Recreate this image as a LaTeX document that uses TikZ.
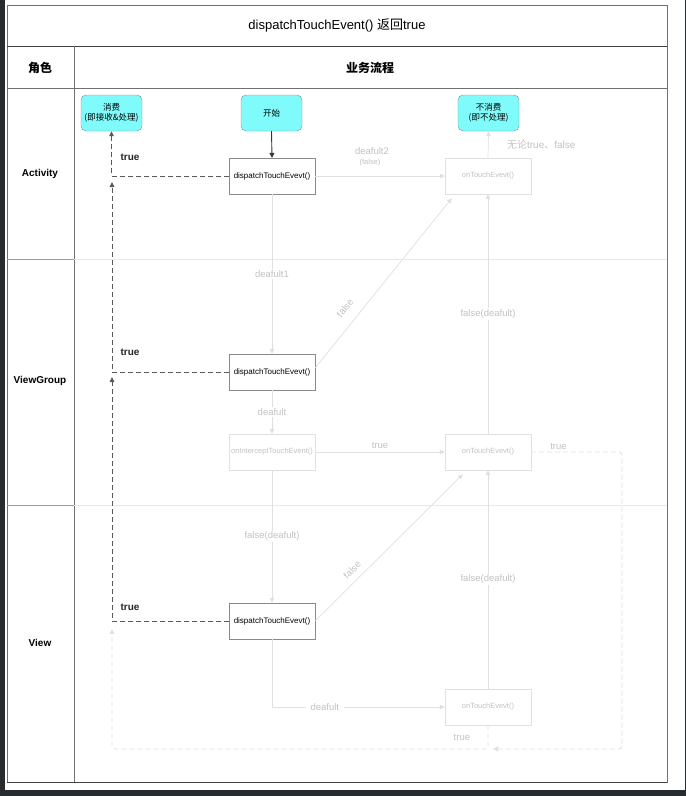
\documentclass[tikz,border=0pt]{standalone}
\usepackage{fontspec}
\setmainfont{Liberation Sans}
\newfontfamily\cjk{Noto Sans CJK SC}
\usetikzlibrary{arrows.meta}
\definecolor{cyanfill}{HTML}{80FBFB}
\definecolor{lightline}{HTML}{E0E0E0}
\definecolor{lighttext}{HTML}{C2C2C2}
\definecolor{tableline}{HTML}{707070}
\definecolor{darkbg}{HTML}{272C30}
\definecolor{boxline}{HTML}{8A8A8A}
\begin{document}
\begin{tikzpicture}[x=1pt,y=-1pt,
  cbox/.style={draw=boxline, fill=cyanfill, rounded corners=5pt, minimum width=61pt, minimum height=36pt, inner sep=0pt, align=center, font=\cjk\fontsize{8.5}{10.5}\selectfont},
  dbox/.style={draw=boxline, fill=white, minimum width=86pt, minimum height=36pt, inner sep=0pt, font=\fontsize{8}{10}\selectfont},
  lbox/.style={draw=lightline, fill=white, text=lighttext, minimum width=86pt, minimum height=36pt, inner sep=0pt, font=\fontsize{7.5}{9}\selectfont},
  hdr/.style={font=\cjk\bfseries\fontsize{12}{14}\selectfont},
  rowlbl/.style={font=\bfseries\fontsize{10}{12}\selectfont},
  truelbl/.style={font=\bfseries\fontsize{10}{12}\selectfont, text=black!85},
  lbl/.style={font=\fontsize{9.5}{11}\selectfont, text=lighttext, inner sep=1.5pt},
  darrow/.style={draw=black!80, line width=0.9pt, -{Triangle[length=5pt,width=5pt]}},
  ddash/.style={draw=black!65, line width=0.9pt, dash pattern=on 5pt off 3pt, -{Triangle[length=5pt,width=4.5pt]}},
  larrow/.style={draw=lightline, line width=0.7pt, -{Triangle[length=5pt,width=4.5pt]}},
  ldash/.style={draw=lightline, line width=0.8pt, dash pattern=on 5pt off 3pt, rounded corners=3pt, -{Triangle[length=5pt,width=4.5pt]}}
]
\useasboundingbox (0,0) rectangle (686,796);
\fill[white] (0,0) rectangle (686,796);
\fill[darkbg] (0,0) rectangle (4.5,796);
\fill[darkbg] (0,790) rectangle (686,796);
\fill[darkbg] (684.5,0) rectangle (686,796);

% table
\draw[tableline, line width=1pt] (7,5) rectangle (667,782);
\draw[black!75, line width=1pt] (7,46) -- (667,46);
\draw[tableline, line width=0.8pt] (7,88) -- (667,88);
\draw[tableline, line width=0.8pt] (74,46) -- (74,782);
\draw[black!75, line width=1pt] (7,782) -- (667,782);
\draw[tableline!70, line width=0.8pt] (7,259) -- (74,259);
\draw[tableline!70, line width=0.8pt] (7,505) -- (74,505);
\draw[lightline!70, line width=0.7pt] (74,259) -- (667,259);
\draw[lightline!70, line width=0.7pt] (74,505) -- (667,505);

% headers
\node[font=\fontsize{13}{15}\selectfont] (title) at (337,25) {dispatchTouchEvent() {\cjk 返回}true};
\node[hdr] (role) at (40,68) {角色};
\node[hdr] (flow) at (370,68) {业务流程};
\node[rowlbl] (rA) at (40,174) {Activity};
\node[rowlbl] (rVG) at (40,381) {ViewGroup};
\node[rowlbl] (rV) at (40,643) {View};

% nodes
\node[cbox] (cons) at (111.5,113) {消费\\(即接收\&处理)};
\node[cbox] (start) at (271.5,113) {开始};
\node[cbox] (nocons) at (488.5,113) {不消费\\(即不处理)};
\node[dbox] (dA) at (272,176) {dispatchTouchEvevt()};
\node[lbox] (oA) at (488,176) {onTouchEvevt()};
\node[dbox] (dVG) at (272,372) {dispatchTouchEvevt()};
\node[lbox] (oI) at (272,452) {onInterceptTouchEvent()};
\node[lbox] (oVG) at (488,452) {onTouchEvevt()};
\node[dbox] (dV) at (272,621) {dispatchTouchEvevt()};
\node[lbox] (oV) at (488,707) {onTouchEvevt()};

\coordinate (tA) at (112,182);
\coordinate (tVG) at (112,377);
\coordinate (tV) at (112,629);
\coordinate (cR) at (622,749);
\coordinate (tR) at (493,749);
\coordinate (cL) at (112,749);

% light connectors
\draw[larrow] (dA.east) -- (oA.west);
\node[lbl] (d2) at (372,151) {deafult2};
\node[lbl, font=\fontsize{7.5}{9}\selectfont] (d2f) at (370,163) {(false)};
\draw[larrow] (dA.south) -- node[lbl, fill=white] {deafult1} (dVG.north);
\draw[larrow] ([yshift=4pt]dVG.east) -- node[lbl, pos=0.3, sloped, above=9pt] {false} ([xshift=7pt,yshift=-4pt]oA.south west);
\draw[larrow] (oVG.north) -- node[lbl, fill=white] {false(deafult)} (oA.south);
\draw[larrow] (oA.north) -- node[lbl, right=17pt, font=\fontsize{10}{12}\selectfont] {{\cjk 无论}true{\cjk 、}false} (nocons.south);
\draw[larrow] (dVG.south) -- node[lbl, fill=white] {deafult} (oI.north);
\draw[larrow] (oI.east) -- node[lbl, above=2pt] {true} (oVG.west);
\draw[larrow] (oI.south) -- node[lbl, fill=white] {false(deafult)} (dV.north);
\draw[larrow] (dV.east) -- node[lbl, pos=0.3, sloped, above=5pt] {false} ([xshift=18pt,yshift=-4pt]oVG.south west);
\draw[larrow] (oV.north) -- node[lbl, fill=white] {false(deafult)} (oVG.south);
\draw[larrow] (dV.south) |- node[lbl, pos=0.653, fill=white, inner xsep=5pt] {deafult} (oV.west);

\draw[ldash] (oVG.east) -| node[lbl, pos=0.15, above=1pt] {true} (cR) -- (tR);
\draw[ldash] (oV.south) |- node[lbl, pos=0.25, left=16pt] {true} (cL) -- (tV);

% dark connectors
\draw[darrow] (start.south) -- (dA.north);
\draw[ddash] (dA.west) -| (cons.south);
\draw[ddash] (dVG.west) -| (tA);
\draw[ddash] (dV.west) -| (tVG);
\node[truelbl] (tlA) at (130,157) {true};
\node[truelbl] (tlVG) at (130,352) {true};
\node[truelbl] (tlV) at (130,607) {true};
\end{tikzpicture}
\end{document}
